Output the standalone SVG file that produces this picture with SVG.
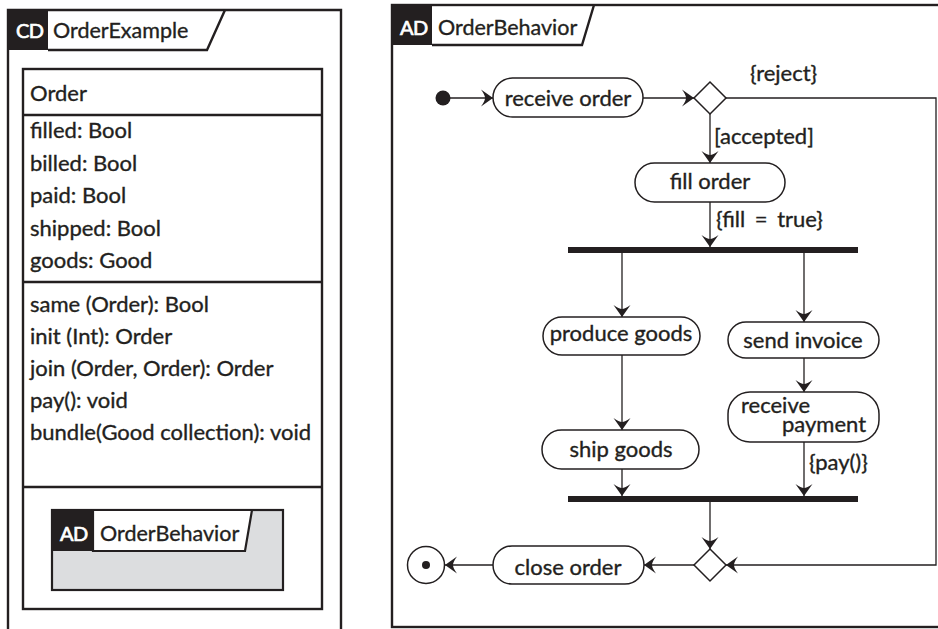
<svg xmlns="http://www.w3.org/2000/svg" width="938" height="629" viewBox="0 0 938 629">
  <style>
    .frame { fill: none; stroke: #231f20; stroke-width: 2.4; }
    .tag { fill: #231f20; }
    .tagtxt { fill: #ffffff; stroke: #ffffff; stroke-width: 0.7; font-family: Lato, "Liberation Sans", sans-serif; font-size: 20px; letter-spacing: -0.5px; }
    .title { fill: #231f20; stroke: #231f20; stroke-width: 0.35; font-family: Lato, "Liberation Sans", sans-serif; font-size: 21.5px; }
    .txt { fill: #231f20; stroke: #231f20; stroke-width: 0.35; font-family: Lato, "Liberation Sans", sans-serif; font-size: 22px; }
    .mid { text-anchor: middle; }
    .box { fill: #ffffff; stroke: #231f20; stroke-width: 2.4; }
    .action { fill: #ffffff; stroke: #231f20; stroke-width: 1.5; }
    .diamond { fill: #ffffff; stroke: #231f20; stroke-width: 1.5; }
    .bar { fill: #231f20; }
    .edge { fill: none; stroke: #231f20; stroke-width: 1.3; marker-end: url(#arrow); }
  </style>
  <defs>
    <marker id="arrow" markerUnits="userSpaceOnUse" viewBox="-13 -10 14 20" markerWidth="14" markerHeight="20" refX="0" refY="0" orient="auto">
      <path d="M0,0 L-12,-8.5 Q-8,-3 -8,0 Q-8,3 -12,8.5 Z" fill="#231f20"/>
    </marker>
  </defs>

  <rect width="938" height="629" fill="#ffffff"/>

  <!-- class diagram frame -->
  <g id="cd-frame">
    <path class="frame" d="M8,629 V10 H341 V629"/>
    <rect class="tag" x="8" y="10" width="40" height="40"/>
    <path class="frame" d="M48,50 H207 L225,10"/>
    <text class="tagtxt" x="16" y="38">CD</text>
    <text class="title" x="53" y="38">OrderExample</text>
  </g>

  <!-- Order class -->
  <g id="order-class">
    <rect class="box" x="23" y="69" width="299" height="540"/>
    <line class="frame" x1="23" y1="115" x2="322" y2="115"/>
    <line class="frame" x1="23" y1="282" x2="322" y2="282"/>
    <line class="frame" x1="23" y1="487" x2="322" y2="487"/>
    <text class="txt" x="30" y="101">Order</text>
    <text class="txt" x="30" y="138">filled: Bool</text>
    <text class="txt" x="30" y="170.5">billed: Bool</text>
    <text class="txt" x="30" y="203">paid: Bool</text>
    <text class="txt" x="30" y="235.5">shipped: Bool</text>
    <text class="txt" x="30" y="268">goods: Good</text>
    <text class="txt" x="30" y="311.5">same (Order): Bool</text>
    <text class="txt" x="30" y="343.5">init (Int): Order</text>
    <text class="txt" x="30" y="375.5">join (Order, Order): Order</text>
    <text class="txt" x="30" y="408">pay(): void</text>
    <text class="txt" x="30" y="440">bundle(Good collection): void</text>
  </g>

  <!-- nested behavior reference -->
  <g id="behavior-ref">
    <rect x="52" y="510" width="231" height="80" fill="#dcdddf" stroke="#231f20" stroke-width="2.2"/>
    <path d="M93,510 H252 L245,551 H93 Z" fill="#ffffff" stroke="#231f20" stroke-width="2.2"/>
    <rect class="tag" x="52" y="510" width="41" height="41"/>
    <text class="tagtxt" x="60" y="541">AD</text>
    <text class="title" x="100" y="541">OrderBehavior</text>
  </g>

  <!-- activity diagram frame -->
  <g id="ad-frame">
    <rect class="frame" x="392" y="5" width="560" height="622"/>
    <rect class="tag" x="392" y="5" width="40" height="40"/>
    <path class="frame" d="M432,45 H582 L594,5"/>
    <text class="tagtxt" x="400" y="35">AD</text>
    <text class="title" x="438" y="35">OrderBehavior</text>
  </g>

  <!-- connectors -->
  <g id="connectors">
    <line class="edge" x1="450" y1="98" x2="493" y2="98"/>
    <line class="edge" x1="643" y1="98" x2="694" y2="98"/>
    <line class="edge" x1="710" y1="114" x2="710" y2="163"/>
    <line class="edge" x1="710" y1="202" x2="710" y2="247"/>
    <line class="edge" x1="622" y1="253" x2="622" y2="317"/>
    <line class="edge" x1="804" y1="253" x2="804" y2="322"/>
    <line class="edge" x1="622" y1="355" x2="622" y2="430"/>
    <line class="edge" x1="804" y1="358" x2="804" y2="392"/>
    <line class="edge" x1="622" y1="469" x2="622" y2="496"/>
    <line class="edge" x1="804" y1="442" x2="804" y2="496"/>
    <line class="edge" x1="710" y1="502" x2="710" y2="549"/>
    <path class="edge" d="M726,98 H936 V565 H726"/>
    <line class="edge" x1="694" y1="565" x2="644" y2="565"/>
    <line class="edge" x1="493" y1="565" x2="445" y2="565"/>
    <text class="txt" x="750" y="81">{reject}</text>
    <text class="txt" x="714" y="144">[accepted]</text>
    <text class="txt" x="716" y="227" word-spacing="4">{fill = true}</text>
    <text class="txt" x="809" y="470">{pay()}</text>
  </g>

  <!-- activity nodes -->
  <g id="initial">
    <circle cx="443" cy="98" r="7.5" fill="#231f20"/>
  </g>
  <g id="receive-order">
    <rect class="action" x="493" y="78" width="150" height="39" rx="19.5"/>
    <text class="txt mid" x="568" y="106">receive order</text>
  </g>
  <g id="decision">
    <path class="diamond" d="M710,82 L726,98 L710,114 L694,98 Z"/>
  </g>
  <g id="fill-order">
    <rect class="action" x="635" y="163" width="150" height="39" rx="19.5"/>
    <text class="txt mid" x="710" y="189">fill order</text>
  </g>
  <g id="fork">
    <rect class="bar" x="568" y="247" width="290" height="6"/>
  </g>
  <g id="produce-goods">
    <rect class="action" x="543" y="317" width="157" height="38" rx="19"/>
    <text class="txt mid" x="621" y="341">produce goods</text>
  </g>
  <g id="send-invoice">
    <rect class="action" x="728" y="322" width="151" height="36" rx="18"/>
    <text class="txt mid" x="803" y="348">send invoice</text>
  </g>
  <g id="receive-payment">
    <rect class="action" x="728" y="392" width="151" height="50" rx="22"/>
    <text class="txt"><tspan x="741" y="413">receive</tspan><tspan x="782" y="432">payment</tspan></text>
  </g>
  <g id="ship-goods">
    <rect class="action" x="542" y="430" width="157" height="39" rx="19.5"/>
    <text class="txt mid" x="621" y="457">ship goods</text>
  </g>
  <g id="join">
    <rect class="bar" x="568" y="496" width="290" height="6"/>
  </g>
  <g id="merge">
    <path class="diamond" d="M710,549 L726,565 L710,581 L694,565 Z"/>
  </g>
  <g id="close-order">
    <rect class="action" x="493" y="546" width="151" height="38" rx="19"/>
    <text class="txt mid" x="568" y="575">close order</text>
  </g>
  <g id="final">
    <circle cx="426" cy="565" r="18.5" fill="#ffffff" stroke="#231f20" stroke-width="1.5"/>
    <circle cx="426" cy="565" r="4" fill="#231f20"/>
  </g>
</svg>
